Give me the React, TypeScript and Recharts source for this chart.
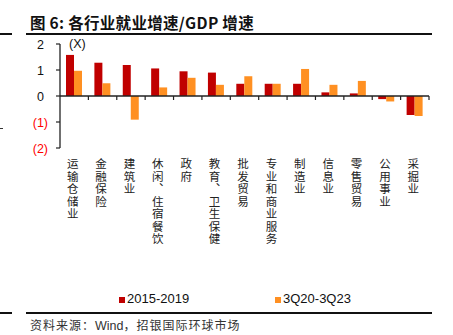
import { BarChart, Bar, XAxis, YAxis, ReferenceLine } from "recharts";

const categories = [
  "运输仓储业",
  "金融保险",
  "建筑业",
  "休闲、住宿餐饮",
  "政府",
  "教育、卫生保健",
  "批发贸易",
  "专业和商业服务",
  "制造业",
  "信息业",
  "零售贸易",
  "公用事业",
  "采掘业",
];
const growth1519 = [1.58, 1.28, 1.19, 1.06, 0.95, 0.9, 0.47, 0.47, 0.47, 0.14, 0.1, -0.12, -0.73];
const growth3Q = [0.97, 0.49, -0.91, 0.33, 0.7, 0.43, 0.76, 0.47, 1.04, 0.43, 0.58, -0.21, -0.77];
const yTicks = [-2, -1, 0, 1, 2];
const seriesNames = ["2015-2019", "3Q20-3Q23"];

const RED = "#C00000";
const ORANGE = "#FF9022";
const CJK = '"Noto Sans CJK SC", sans-serif';
const SANS = '"Liberation Sans", Arial, sans-serif';

// chart layout (pixels)
const PLOT_L = 60;
const PLOT_R = 429;
const PLOT_T = 44;
const PLOT_B = 148;
const ZERO_Y = (PLOT_T + PLOT_B) / 2;
const BAND = (PLOT_R - PLOT_L) / categories.length;

const data = categories.map((c, i) => ({ name: c, a: growth1519[i], b: growth3Q[i] }));

// category labels are written top-to-bottom, tick marks sit on the zero line between categories
function XTick(props: any) {
  const { x, payload } = props;
  return (
    <g>
      <line x1={x + BAND / 2} x2={x + BAND / 2} y1={ZERO_Y} y2={ZERO_Y + 4} stroke="#222" strokeWidth={1.2} />
      <text
        x={x - 1.5}
        y={158}
        style={{ writingMode: "vertical-rl", letterSpacing: 1 }}
        fontSize={11.5}
        fontFamily={CJK}
        fill="#222"
      >
        {payload.value}
      </text>
    </g>
  );
}

function YTick(props: any) {
  const { y, payload } = props;
  const v = payload.value as number;
  const neg = v < 0;
  return (
    <text
      x={neg ? 48 : 44}
      y={y + 4.5}
      textAnchor="end"
      fontSize={12.5}
      fontFamily={SANS}
      fill={neg ? "#FF0000" : "#111"}
    >
      {neg ? `(${Math.abs(v)})` : v}
    </text>
  );
}

export default function App() {
  return (
    <div style={{ position: "absolute", left: 0, top: 0, width: 453, height: 335, background: "#fff", overflow: "hidden" }}>
      <div style={{ position: "absolute", left: 30, top: 11, fontFamily: CJK, fontWeight: 700, fontSize: 15.5, color: "#111", whiteSpace: "nowrap", letterSpacing: 0.3 }}>
        图 6: 各行业就业增速/GDP 增速
      </div>
      <div style={{ position: "absolute", left: 26, top: 33, width: 406, height: 2, background: "#111" }} />
      <div style={{ position: "absolute", left: 0, top: 33, width: 12, height: 2, background: "#111" }} />
      <div style={{ position: "absolute", left: 0, top: 128, width: 3, height: 1, background: "#333" }} />

      <div style={{ position: "absolute", left: 0, top: 0 }}>
        <BarChart
          width={453}
          height={260}
          data={data}
          margin={{ top: PLOT_T, right: 453 - PLOT_R, left: 0, bottom: 0 }}
          barSize={8}
          barGap={0}
        >
          <XAxis dataKey="name" axisLine={false} tickLine={false} tick={<XTick />} height={260 - PLOT_B} interval={0} />
          <YAxis
            width={PLOT_L}
            domain={[-2, 2]}
            ticks={yTicks}
            tick={<YTick />}
            tickSize={4}
            axisLine={{ stroke: "#222", strokeWidth: 1.3 }}
            tickLine={{ stroke: "#222", strokeWidth: 1.2 }}
          />
          <Bar dataKey="a" fill={RED} isAnimationActive={false} />
          <Bar dataKey="b" fill={ORANGE} isAnimationActive={false} />
          <ReferenceLine y={0} stroke="#222" strokeWidth={1.3} />
        </BarChart>
      </div>

      <div style={{ position: "absolute", left: 69, top: 37, fontFamily: SANS, fontSize: 12.5, color: "#111" }}>(X)</div>

      {/* legend */}
      <div style={{ position: "absolute", left: 119, top: 297, width: 6, height: 6, background: RED }} />
      <div style={{ position: "absolute", left: 127, top: 291, fontFamily: SANS, fontSize: 13, color: "#111" }}>{seriesNames[0]}</div>
      <div style={{ position: "absolute", left: 275, top: 297, width: 6, height: 6, background: ORANGE }} />
      <div style={{ position: "absolute", left: 283, top: 291, fontFamily: SANS, fontSize: 13, color: "#111" }}>{seriesNames[1]}</div>

      <div style={{ position: "absolute", left: 26, top: 312, width: 406, height: 2, background: "#111" }} />
      <div style={{ position: "absolute", left: 0, top: 312, width: 12, height: 2, background: "#111" }} />
      <div style={{ position: "absolute", left: 30, top: 316, fontFamily: CJK, fontSize: 12, color: "#333", whiteSpace: "nowrap", letterSpacing: 1 }}>
        资料来源：<span style={{ fontFamily: SANS, fontSize: 12.5, letterSpacing: 0 }}>Wind</span>，招银国际环球市场
      </div>
    </div>
  );
}
